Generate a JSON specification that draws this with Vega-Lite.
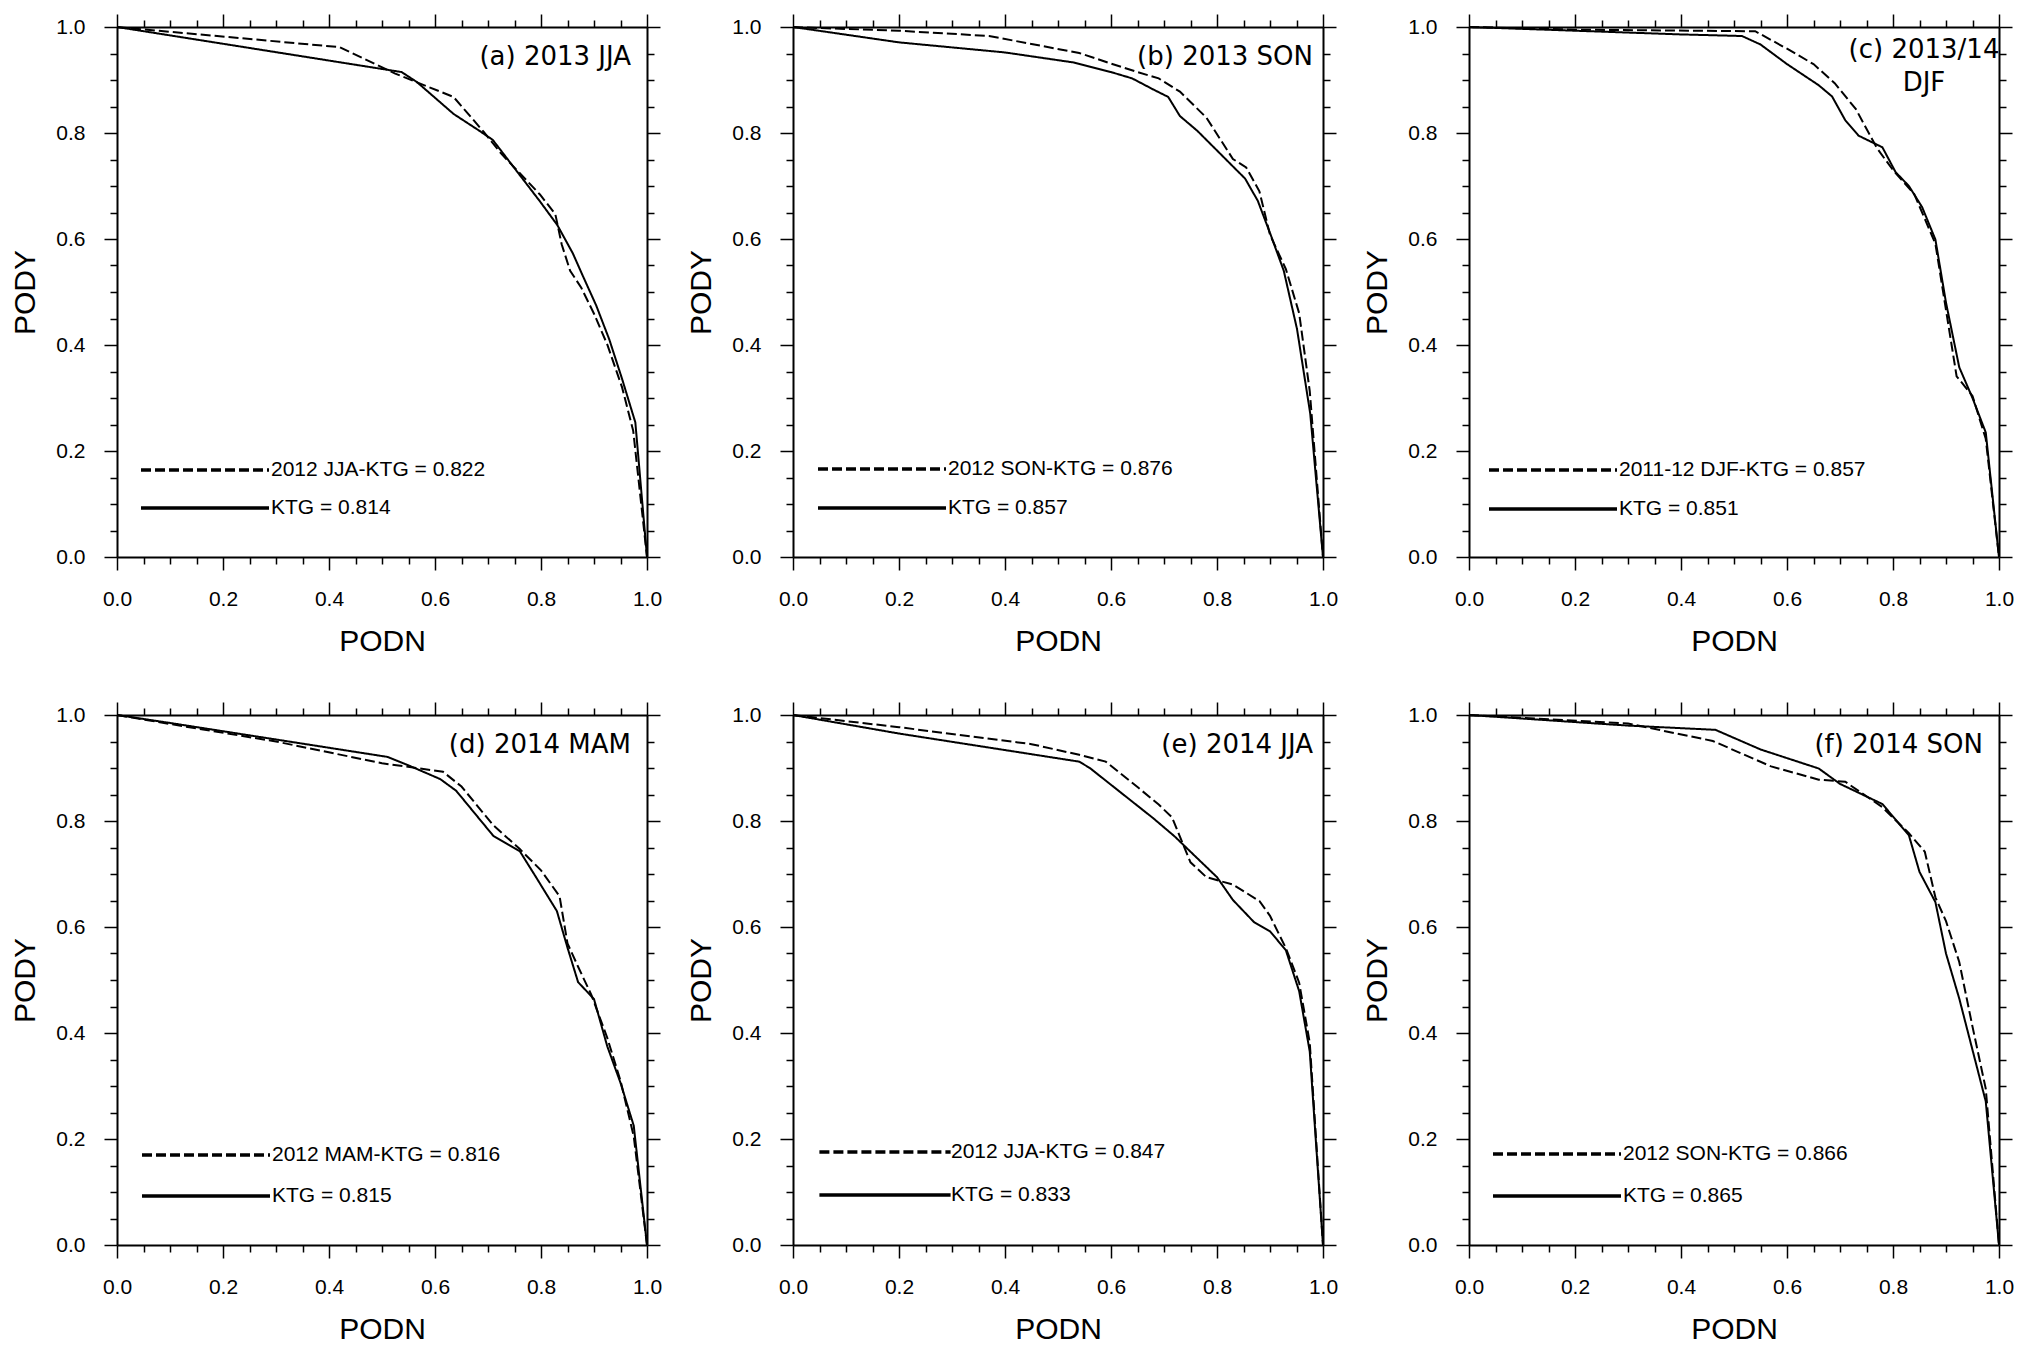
{
  "$schema": "https://vega.github.io/schema/vega-lite/v6.json",
  "padding": {"left": 10, "top": 13, "right": 5, "bottom": 5},
  "background": "white",
  "columns": 3,
  "spacing": {"row": 158, "column": 146},
  "bounds": "flush",
  "resolve": {"scale": {"strokeDash": "independent"}, "legend": {"strokeDash": "independent"}},
  "concat": [
    {
      "width": 530, "height": 530,
      "title": {"text": "(a) 2013 JJA", "offset": -57, "dx": -16},
      "data": {"values": [
        {"series": "2012 JJA-KTG = 0.822", "PODN": 0, "PODY": 1},
        {"series": "2012 JJA-KTG = 0.822", "PODN": 0.42, "PODY": 0.962},
        {"series": "2012 JJA-KTG = 0.822", "PODN": 0.525, "PODY": 0.912},
        {"series": "2012 JJA-KTG = 0.822", "PODN": 0.635, "PODY": 0.868},
        {"series": "2012 JJA-KTG = 0.822", "PODN": 0.692, "PODY": 0.802},
        {"series": "2012 JJA-KTG = 0.822", "PODN": 0.725, "PODY": 0.761},
        {"series": "2012 JJA-KTG = 0.822", "PODN": 0.798, "PODY": 0.684},
        {"series": "2012 JJA-KTG = 0.822", "PODN": 0.827, "PODY": 0.647},
        {"series": "2012 JJA-KTG = 0.822", "PODN": 0.839, "PODY": 0.59},
        {"series": "2012 JJA-KTG = 0.822", "PODN": 0.855, "PODY": 0.54},
        {"series": "2012 JJA-KTG = 0.822", "PODN": 0.876, "PODY": 0.508},
        {"series": "2012 JJA-KTG = 0.822", "PODN": 0.9, "PODY": 0.459},
        {"series": "2012 JJA-KTG = 0.822", "PODN": 0.925, "PODY": 0.401},
        {"series": "2012 JJA-KTG = 0.822", "PODN": 0.953, "PODY": 0.32},
        {"series": "2012 JJA-KTG = 0.822", "PODN": 0.974, "PODY": 0.238},
        {"series": "2012 JJA-KTG = 0.822", "PODN": 1, "PODY": 0},
        {"series": "KTG = 0.814", "PODN": 0, "PODY": 1},
        {"series": "KTG = 0.814", "PODN": 0.537, "PODY": 0.915},
        {"series": "KTG = 0.814", "PODN": 0.566, "PODY": 0.896},
        {"series": "KTG = 0.814", "PODN": 0.635, "PODY": 0.836},
        {"series": "KTG = 0.814", "PODN": 0.684, "PODY": 0.804},
        {"series": "KTG = 0.814", "PODN": 0.709, "PODY": 0.787},
        {"series": "KTG = 0.814", "PODN": 0.798, "PODY": 0.671},
        {"series": "KTG = 0.814", "PODN": 0.831, "PODY": 0.626},
        {"series": "KTG = 0.814", "PODN": 0.86, "PODY": 0.573},
        {"series": "KTG = 0.814", "PODN": 0.88, "PODY": 0.528},
        {"series": "KTG = 0.814", "PODN": 0.904, "PODY": 0.475},
        {"series": "KTG = 0.814", "PODN": 0.929, "PODY": 0.41},
        {"series": "KTG = 0.814", "PODN": 0.953, "PODY": 0.336},
        {"series": "KTG = 0.814", "PODN": 0.978, "PODY": 0.254},
        {"series": "KTG = 0.814", "PODN": 1, "PODY": 0}
      ]},
      "layer": [
        {
          "mark": {"type": "line", "color": "black", "strokeWidth": 2},
          "encoding": {
            "x": {"field": "PODN", "type": "quantitative", "scale": {"domain": [0, 1], "nice": false, "zero": false},
              "axis": {"orient": "bottom", "title": "PODN", "values": [0,0.05,0.1,0.15,0.2,0.25,0.3,0.35,0.4,0.45,0.5,0.55,0.6,0.65,0.7,0.75,0.8,0.85,0.9,0.95,1],
                "tickSize": {"condition": {"test": "abs(datum.value*5-round(datum.value*5))<0.001", "value": 13}, "value": 7},
                "labelExpr": "abs(datum.value*5-round(datum.value*5))<0.001 ? format(datum.value, '.1f') : ''",
                "labelPadding": 18, "titlePadding": 17, "labelFlush": false, "labelOverlap": false}},
            "y": {"field": "PODY", "type": "quantitative", "scale": {"domain": [0, 1], "nice": false, "zero": false},
              "axis": {"orient": "left", "title": "PODY", "values": [0,0.05,0.1,0.15,0.2,0.25,0.3,0.35,0.4,0.45,0.5,0.55,0.6,0.65,0.7,0.75,0.8,0.85,0.9,0.95,1],
                "tickSize": {"condition": {"test": "abs(datum.value*5-round(datum.value*5))<0.001", "value": 13}, "value": 7},
                "labelExpr": "abs(datum.value*5-round(datum.value*5))<0.001 ? format(datum.value, '.1f') : ''",
                "labelPadding": 19, "titlePadding": 15, "labelFlush": false, "labelOverlap": false}},
            "strokeDash": {"field": "series", "type": "nominal",
              "scale": {"domain": ["2012 JJA-KTG = 0.822", "KTG = 0.814"], "range": [[10, 4], [1, 0]]},
              "legend": {"title": null, "orient": "none", "legendX": 70, "legendY": 425, "rowPadding": 10, "symbolType": "M-4,0H4"}}
          }
        },
        {
          "mark": {"type": "point", "opacity": 0, "size": 1},
          "encoding": {
            "x": {"field": "PODN", "type": "quantitative", "axis": {"orient": "top", "title": null, "labels": false, "values": [0,0.05,0.1,0.15,0.2,0.25,0.3,0.35,0.4,0.45,0.5,0.55,0.6,0.65,0.7,0.75,0.8,0.85,0.9,0.95,1], "tickSize": {"condition": {"test": "abs(datum.value*5-round(datum.value*5))<0.001", "value": 13}, "value": 7}}},
            "y": {"field": "PODY", "type": "quantitative", "axis": {"orient": "right", "title": null, "labels": false, "values": [0,0.05,0.1,0.15,0.2,0.25,0.3,0.35,0.4,0.45,0.5,0.55,0.6,0.65,0.7,0.75,0.8,0.85,0.9,0.95,1], "tickSize": {"condition": {"test": "abs(datum.value*5-round(datum.value*5))<0.001", "value": 13}, "value": 7}}}
          }
        }
      ],
      "resolve": {"axis": {"x": "independent", "y": "independent"}}
    },
    {
      "width": 530, "height": 530,
      "title": {"text": "(b) 2013 SON", "offset": -57, "dx": -10},
      "data": {"values": [
        {"series": "2012 SON-KTG = 0.876", "PODN": 0, "PODY": 1},
        {"series": "2012 SON-KTG = 0.876", "PODN": 0.05, "PODY": 0.998},
        {"series": "2012 SON-KTG = 0.876", "PODN": 0.2, "PODY": 0.993},
        {"series": "2012 SON-KTG = 0.876", "PODN": 0.37, "PODY": 0.983},
        {"series": "2012 SON-KTG = 0.876", "PODN": 0.54, "PODY": 0.951},
        {"series": "2012 SON-KTG = 0.876", "PODN": 0.6, "PODY": 0.931},
        {"series": "2012 SON-KTG = 0.876", "PODN": 0.65, "PODY": 0.915},
        {"series": "2012 SON-KTG = 0.876", "PODN": 0.69, "PODY": 0.903},
        {"series": "2012 SON-KTG = 0.876", "PODN": 0.73, "PODY": 0.878},
        {"series": "2012 SON-KTG = 0.876", "PODN": 0.78, "PODY": 0.829},
        {"series": "2012 SON-KTG = 0.876", "PODN": 0.83, "PODY": 0.751},
        {"series": "2012 SON-KTG = 0.876", "PODN": 0.855, "PODY": 0.735},
        {"series": "2012 SON-KTG = 0.876", "PODN": 0.88, "PODY": 0.69},
        {"series": "2012 SON-KTG = 0.876", "PODN": 0.9, "PODY": 0.608},
        {"series": "2012 SON-KTG = 0.876", "PODN": 0.93, "PODY": 0.543},
        {"series": "2012 SON-KTG = 0.876", "PODN": 0.955, "PODY": 0.46},
        {"series": "2012 SON-KTG = 0.876", "PODN": 0.975, "PODY": 0.313},
        {"series": "2012 SON-KTG = 0.876", "PODN": 1, "PODY": 0},
        {"series": "KTG = 0.857", "PODN": 0, "PODY": 1},
        {"series": "KTG = 0.857", "PODN": 0.2, "PODY": 0.971},
        {"series": "KTG = 0.857", "PODN": 0.4, "PODY": 0.952},
        {"series": "KTG = 0.857", "PODN": 0.53, "PODY": 0.933},
        {"series": "KTG = 0.857", "PODN": 0.6, "PODY": 0.915},
        {"series": "KTG = 0.857", "PODN": 0.64, "PODY": 0.903},
        {"series": "KTG = 0.857", "PODN": 0.68, "PODY": 0.882},
        {"series": "KTG = 0.857", "PODN": 0.708, "PODY": 0.868},
        {"series": "KTG = 0.857", "PODN": 0.73, "PODY": 0.832},
        {"series": "KTG = 0.857", "PODN": 0.763, "PODY": 0.804},
        {"series": "KTG = 0.857", "PODN": 0.853, "PODY": 0.714},
        {"series": "KTG = 0.857", "PODN": 0.877, "PODY": 0.672},
        {"series": "KTG = 0.857", "PODN": 0.902, "PODY": 0.606},
        {"series": "KTG = 0.857", "PODN": 0.926, "PODY": 0.54},
        {"series": "KTG = 0.857", "PODN": 0.951, "PODY": 0.43},
        {"series": "KTG = 0.857", "PODN": 0.976, "PODY": 0.27},
        {"series": "KTG = 0.857", "PODN": 1, "PODY": 0}
      ]},
      "layer": [
        {
          "mark": {"type": "line", "color": "black", "strokeWidth": 2},
          "encoding": {
            "x": {"field": "PODN", "type": "quantitative", "scale": {"domain": [0, 1], "nice": false, "zero": false},
              "axis": {"orient": "bottom", "title": "PODN", "values": [0,0.05,0.1,0.15,0.2,0.25,0.3,0.35,0.4,0.45,0.5,0.55,0.6,0.65,0.7,0.75,0.8,0.85,0.9,0.95,1],
                "tickSize": {"condition": {"test": "abs(datum.value*5-round(datum.value*5))<0.001", "value": 13}, "value": 7},
                "labelExpr": "abs(datum.value*5-round(datum.value*5))<0.001 ? format(datum.value, '.1f') : ''",
                "labelPadding": 18, "titlePadding": 17, "labelFlush": false, "labelOverlap": false}},
            "y": {"field": "PODY", "type": "quantitative", "scale": {"domain": [0, 1], "nice": false, "zero": false},
              "axis": {"orient": "left", "title": "PODY", "values": [0,0.05,0.1,0.15,0.2,0.25,0.3,0.35,0.4,0.45,0.5,0.55,0.6,0.65,0.7,0.75,0.8,0.85,0.9,0.95,1],
                "tickSize": {"condition": {"test": "abs(datum.value*5-round(datum.value*5))<0.001", "value": 13}, "value": 7},
                "labelExpr": "abs(datum.value*5-round(datum.value*5))<0.001 ? format(datum.value, '.1f') : ''",
                "labelPadding": 19, "titlePadding": 15, "labelFlush": false, "labelOverlap": false}},
            "strokeDash": {"field": "series", "type": "nominal",
              "scale": {"domain": ["2012 SON-KTG = 0.876", "KTG = 0.857"], "range": [[10, 4], [1, 0]]},
              "legend": {"title": null, "orient": "none", "legendX": 71, "legendY": 424, "rowPadding": 11, "symbolType": "M-4,0H4"}}
          }
        },
        {
          "mark": {"type": "point", "opacity": 0, "size": 1},
          "encoding": {
            "x": {"field": "PODN", "type": "quantitative", "axis": {"orient": "top", "title": null, "labels": false, "values": [0,0.05,0.1,0.15,0.2,0.25,0.3,0.35,0.4,0.45,0.5,0.55,0.6,0.65,0.7,0.75,0.8,0.85,0.9,0.95,1], "tickSize": {"condition": {"test": "abs(datum.value*5-round(datum.value*5))<0.001", "value": 13}, "value": 7}}},
            "y": {"field": "PODY", "type": "quantitative", "axis": {"orient": "right", "title": null, "labels": false, "values": [0,0.05,0.1,0.15,0.2,0.25,0.3,0.35,0.4,0.45,0.5,0.55,0.6,0.65,0.7,0.75,0.8,0.85,0.9,0.95,1], "tickSize": {"condition": {"test": "abs(datum.value*5-round(datum.value*5))<0.001", "value": 13}, "value": 7}}}
          }
        }
      ],
      "resolve": {"axis": {"x": "independent", "y": "independent"}}
    },
    {
      "width": 530, "height": 530,
      "title": {"text": ["(c) 2013/14", "DJF"], "offset": -83, "dx": -75, "align": "center", "lineHeight": 33},
      "data": {"values": [
        {"series": "2011-12 DJF-KTG = 0.857", "PODN": 0, "PODY": 1},
        {"series": "2011-12 DJF-KTG = 0.857", "PODN": 0.2, "PODY": 0.995},
        {"series": "2011-12 DJF-KTG = 0.857", "PODN": 0.54, "PODY": 0.992},
        {"series": "2011-12 DJF-KTG = 0.857", "PODN": 0.6, "PODY": 0.959},
        {"series": "2011-12 DJF-KTG = 0.857", "PODN": 0.65, "PODY": 0.93},
        {"series": "2011-12 DJF-KTG = 0.857", "PODN": 0.69, "PODY": 0.894},
        {"series": "2011-12 DJF-KTG = 0.857", "PODN": 0.73, "PODY": 0.845},
        {"series": "2011-12 DJF-KTG = 0.857", "PODN": 0.77, "PODY": 0.771},
        {"series": "2011-12 DJF-KTG = 0.857", "PODN": 0.8, "PODY": 0.73},
        {"series": "2011-12 DJF-KTG = 0.857", "PODN": 0.84, "PODY": 0.685},
        {"series": "2011-12 DJF-KTG = 0.857", "PODN": 0.88, "PODY": 0.591},
        {"series": "2011-12 DJF-KTG = 0.857", "PODN": 0.92, "PODY": 0.341},
        {"series": "2011-12 DJF-KTG = 0.857", "PODN": 0.95, "PODY": 0.304},
        {"series": "2011-12 DJF-KTG = 0.857", "PODN": 0.975, "PODY": 0.223},
        {"series": "2011-12 DJF-KTG = 0.857", "PODN": 1, "PODY": 0},
        {"series": "KTG = 0.851", "PODN": 0, "PODY": 1},
        {"series": "KTG = 0.851", "PODN": 0.2, "PODY": 0.993},
        {"series": "KTG = 0.851", "PODN": 0.4, "PODY": 0.986},
        {"series": "KTG = 0.851", "PODN": 0.515, "PODY": 0.983},
        {"series": "KTG = 0.851", "PODN": 0.55, "PODY": 0.967},
        {"series": "KTG = 0.851", "PODN": 0.6, "PODY": 0.93},
        {"series": "KTG = 0.851", "PODN": 0.66, "PODY": 0.89},
        {"series": "KTG = 0.851", "PODN": 0.685, "PODY": 0.869},
        {"series": "KTG = 0.851", "PODN": 0.71, "PODY": 0.824},
        {"series": "KTG = 0.851", "PODN": 0.735, "PODY": 0.795},
        {"series": "KTG = 0.851", "PODN": 0.78, "PODY": 0.773},
        {"series": "KTG = 0.851", "PODN": 0.805, "PODY": 0.726},
        {"series": "KTG = 0.851", "PODN": 0.83, "PODY": 0.7},
        {"series": "KTG = 0.851", "PODN": 0.855, "PODY": 0.66},
        {"series": "KTG = 0.851", "PODN": 0.88, "PODY": 0.599},
        {"series": "KTG = 0.851", "PODN": 0.9, "PODY": 0.48},
        {"series": "KTG = 0.851", "PODN": 0.925, "PODY": 0.358},
        {"series": "KTG = 0.851", "PODN": 0.95, "PODY": 0.3},
        {"series": "KTG = 0.851", "PODN": 0.975, "PODY": 0.235},
        {"series": "KTG = 0.851", "PODN": 1, "PODY": 0}
      ]},
      "layer": [
        {
          "mark": {"type": "line", "color": "black", "strokeWidth": 2},
          "encoding": {
            "x": {"field": "PODN", "type": "quantitative", "scale": {"domain": [0, 1], "nice": false, "zero": false},
              "axis": {"orient": "bottom", "title": "PODN", "values": [0,0.05,0.1,0.15,0.2,0.25,0.3,0.35,0.4,0.45,0.5,0.55,0.6,0.65,0.7,0.75,0.8,0.85,0.9,0.95,1],
                "tickSize": {"condition": {"test": "abs(datum.value*5-round(datum.value*5))<0.001", "value": 13}, "value": 7},
                "labelExpr": "abs(datum.value*5-round(datum.value*5))<0.001 ? format(datum.value, '.1f') : ''",
                "labelPadding": 18, "titlePadding": 17, "labelFlush": false, "labelOverlap": false}},
            "y": {"field": "PODY", "type": "quantitative", "scale": {"domain": [0, 1], "nice": false, "zero": false},
              "axis": {"orient": "left", "title": "PODY", "values": [0,0.05,0.1,0.15,0.2,0.25,0.3,0.35,0.4,0.45,0.5,0.55,0.6,0.65,0.7,0.75,0.8,0.85,0.9,0.95,1],
                "tickSize": {"condition": {"test": "abs(datum.value*5-round(datum.value*5))<0.001", "value": 13}, "value": 7},
                "labelExpr": "abs(datum.value*5-round(datum.value*5))<0.001 ? format(datum.value, '.1f') : ''",
                "labelPadding": 19, "titlePadding": 15, "labelFlush": false, "labelOverlap": false}},
            "strokeDash": {"field": "series", "type": "nominal",
              "scale": {"domain": ["2011-12 DJF-KTG = 0.857", "KTG = 0.851"], "range": [[10, 4], [1, 0]]},
              "legend": {"title": null, "orient": "none", "legendX": 66, "legendY": 425, "rowPadding": 11, "symbolType": "M-4,0H4"}}
          }
        },
        {
          "mark": {"type": "point", "opacity": 0, "size": 1},
          "encoding": {
            "x": {"field": "PODN", "type": "quantitative", "axis": {"orient": "top", "title": null, "labels": false, "values": [0,0.05,0.1,0.15,0.2,0.25,0.3,0.35,0.4,0.45,0.5,0.55,0.6,0.65,0.7,0.75,0.8,0.85,0.9,0.95,1], "tickSize": {"condition": {"test": "abs(datum.value*5-round(datum.value*5))<0.001", "value": 13}, "value": 7}}},
            "y": {"field": "PODY", "type": "quantitative", "axis": {"orient": "right", "title": null, "labels": false, "values": [0,0.05,0.1,0.15,0.2,0.25,0.3,0.35,0.4,0.45,0.5,0.55,0.6,0.65,0.7,0.75,0.8,0.85,0.9,0.95,1], "tickSize": {"condition": {"test": "abs(datum.value*5-round(datum.value*5))<0.001", "value": 13}, "value": 7}}}
          }
        }
      ],
      "resolve": {"axis": {"x": "independent", "y": "independent"}}
    },
    {
      "width": 530, "height": 530,
      "title": {"text": "(d) 2014 MAM", "offset": -57, "dx": -16},
      "data": {"values": [
        {"series": "2012 MAM-KTG = 0.816", "PODN": 0, "PODY": 1},
        {"series": "2012 MAM-KTG = 0.816", "PODN": 0.1, "PODY": 0.983},
        {"series": "2012 MAM-KTG = 0.816", "PODN": 0.3, "PODY": 0.95},
        {"series": "2012 MAM-KTG = 0.816", "PODN": 0.5, "PODY": 0.909},
        {"series": "2012 MAM-KTG = 0.816", "PODN": 0.615, "PODY": 0.893},
        {"series": "2012 MAM-KTG = 0.816", "PODN": 0.65, "PODY": 0.865},
        {"series": "2012 MAM-KTG = 0.816", "PODN": 0.71, "PODY": 0.792},
        {"series": "2012 MAM-KTG = 0.816", "PODN": 0.76, "PODY": 0.747},
        {"series": "2012 MAM-KTG = 0.816", "PODN": 0.8, "PODY": 0.707},
        {"series": "2012 MAM-KTG = 0.816", "PODN": 0.835, "PODY": 0.658},
        {"series": "2012 MAM-KTG = 0.816", "PODN": 0.85, "PODY": 0.569},
        {"series": "2012 MAM-KTG = 0.816", "PODN": 0.87, "PODY": 0.525},
        {"series": "2012 MAM-KTG = 0.816", "PODN": 0.895, "PODY": 0.472},
        {"series": "2012 MAM-KTG = 0.816", "PODN": 0.925, "PODY": 0.391},
        {"series": "2012 MAM-KTG = 0.816", "PODN": 0.95, "PODY": 0.31},
        {"series": "2012 MAM-KTG = 0.816", "PODN": 0.975, "PODY": 0.205},
        {"series": "2012 MAM-KTG = 0.816", "PODN": 1, "PODY": 0},
        {"series": "KTG = 0.815", "PODN": 0, "PODY": 1},
        {"series": "KTG = 0.815", "PODN": 0.1, "PODY": 0.985},
        {"series": "KTG = 0.815", "PODN": 0.51, "PODY": 0.921},
        {"series": "KTG = 0.815", "PODN": 0.55, "PODY": 0.905},
        {"series": "KTG = 0.815", "PODN": 0.61, "PODY": 0.879},
        {"series": "KTG = 0.815", "PODN": 0.64, "PODY": 0.857},
        {"series": "KTG = 0.815", "PODN": 0.71, "PODY": 0.772},
        {"series": "KTG = 0.815", "PODN": 0.76, "PODY": 0.743},
        {"series": "KTG = 0.815", "PODN": 0.79, "PODY": 0.695},
        {"series": "KTG = 0.815", "PODN": 0.83, "PODY": 0.63},
        {"series": "KTG = 0.815", "PODN": 0.85, "PODY": 0.561},
        {"series": "KTG = 0.815", "PODN": 0.87, "PODY": 0.496},
        {"series": "KTG = 0.815", "PODN": 0.9, "PODY": 0.464},
        {"series": "KTG = 0.815", "PODN": 0.925, "PODY": 0.375},
        {"series": "KTG = 0.815", "PODN": 0.95, "PODY": 0.306},
        {"series": "KTG = 0.815", "PODN": 0.975, "PODY": 0.225},
        {"series": "KTG = 0.815", "PODN": 1, "PODY": 0}
      ]},
      "layer": [
        {
          "mark": {"type": "line", "color": "black", "strokeWidth": 2},
          "encoding": {
            "x": {"field": "PODN", "type": "quantitative", "scale": {"domain": [0, 1], "nice": false, "zero": false},
              "axis": {"orient": "bottom", "title": "PODN", "values": [0,0.05,0.1,0.15,0.2,0.25,0.3,0.35,0.4,0.45,0.5,0.55,0.6,0.65,0.7,0.75,0.8,0.85,0.9,0.95,1],
                "tickSize": {"condition": {"test": "abs(datum.value*5-round(datum.value*5))<0.001", "value": 13}, "value": 7},
                "labelExpr": "abs(datum.value*5-round(datum.value*5))<0.001 ? format(datum.value, '.1f') : ''",
                "labelPadding": 18, "titlePadding": 17, "labelFlush": false, "labelOverlap": false}},
            "y": {"field": "PODY", "type": "quantitative", "scale": {"domain": [0, 1], "nice": false, "zero": false},
              "axis": {"orient": "left", "title": "PODY", "values": [0,0.05,0.1,0.15,0.2,0.25,0.3,0.35,0.4,0.45,0.5,0.55,0.6,0.65,0.7,0.75,0.8,0.85,0.9,0.95,1],
                "tickSize": {"condition": {"test": "abs(datum.value*5-round(datum.value*5))<0.001", "value": 13}, "value": 7},
                "labelExpr": "abs(datum.value*5-round(datum.value*5))<0.001 ? format(datum.value, '.1f') : ''",
                "labelPadding": 19, "titlePadding": 15, "labelFlush": false, "labelOverlap": false}},
            "strokeDash": {"field": "series", "type": "nominal",
              "scale": {"domain": ["2012 MAM-KTG = 0.816", "KTG = 0.815"], "range": [[10, 4], [1, 0]]},
              "legend": {"title": null, "orient": "none", "legendX": 71, "legendY": 422, "rowPadding": 13, "symbolType": "M-4,0H4"}}
          }
        },
        {
          "mark": {"type": "point", "opacity": 0, "size": 1},
          "encoding": {
            "x": {"field": "PODN", "type": "quantitative", "axis": {"orient": "top", "title": null, "labels": false, "values": [0,0.05,0.1,0.15,0.2,0.25,0.3,0.35,0.4,0.45,0.5,0.55,0.6,0.65,0.7,0.75,0.8,0.85,0.9,0.95,1], "tickSize": {"condition": {"test": "abs(datum.value*5-round(datum.value*5))<0.001", "value": 13}, "value": 7}}},
            "y": {"field": "PODY", "type": "quantitative", "axis": {"orient": "right", "title": null, "labels": false, "values": [0,0.05,0.1,0.15,0.2,0.25,0.3,0.35,0.4,0.45,0.5,0.55,0.6,0.65,0.7,0.75,0.8,0.85,0.9,0.95,1], "tickSize": {"condition": {"test": "abs(datum.value*5-round(datum.value*5))<0.001", "value": 13}, "value": 7}}}
          }
        }
      ],
      "resolve": {"axis": {"x": "independent", "y": "independent"}}
    },
    {
      "width": 530, "height": 530,
      "title": {"text": "(e) 2014 JJA", "offset": -57, "dx": -10},
      "data": {"values": [
        {"series": "2012 JJA-KTG = 0.847", "PODN": 0, "PODY": 1},
        {"series": "2012 JJA-KTG = 0.847", "PODN": 0.2, "PODY": 0.977},
        {"series": "2012 JJA-KTG = 0.847", "PODN": 0.45, "PODY": 0.945},
        {"series": "2012 JJA-KTG = 0.847", "PODN": 0.54, "PODY": 0.925},
        {"series": "2012 JJA-KTG = 0.847", "PODN": 0.59, "PODY": 0.912},
        {"series": "2012 JJA-KTG = 0.847", "PODN": 0.65, "PODY": 0.864},
        {"series": "2012 JJA-KTG = 0.847", "PODN": 0.69, "PODY": 0.831},
        {"series": "2012 JJA-KTG = 0.847", "PODN": 0.715, "PODY": 0.807},
        {"series": "2012 JJA-KTG = 0.847", "PODN": 0.75, "PODY": 0.722},
        {"series": "2012 JJA-KTG = 0.847", "PODN": 0.78, "PODY": 0.694},
        {"series": "2012 JJA-KTG = 0.847", "PODN": 0.83, "PODY": 0.68},
        {"series": "2012 JJA-KTG = 0.847", "PODN": 0.88, "PODY": 0.649},
        {"series": "2012 JJA-KTG = 0.847", "PODN": 0.9, "PODY": 0.621},
        {"series": "2012 JJA-KTG = 0.847", "PODN": 0.93, "PODY": 0.56},
        {"series": "2012 JJA-KTG = 0.847", "PODN": 0.955, "PODY": 0.495},
        {"series": "2012 JJA-KTG = 0.847", "PODN": 0.975, "PODY": 0.382},
        {"series": "2012 JJA-KTG = 0.847", "PODN": 1, "PODY": 0},
        {"series": "KTG = 0.833", "PODN": 0, "PODY": 1},
        {"series": "KTG = 0.833", "PODN": 0.2, "PODY": 0.965},
        {"series": "KTG = 0.833", "PODN": 0.54, "PODY": 0.912},
        {"series": "KTG = 0.833", "PODN": 0.56, "PODY": 0.9},
        {"series": "KTG = 0.833", "PODN": 0.68, "PODY": 0.805},
        {"series": "KTG = 0.833", "PODN": 0.72, "PODY": 0.771},
        {"series": "KTG = 0.833", "PODN": 0.75, "PODY": 0.742},
        {"series": "KTG = 0.833", "PODN": 0.8, "PODY": 0.694},
        {"series": "KTG = 0.833", "PODN": 0.83, "PODY": 0.651},
        {"series": "KTG = 0.833", "PODN": 0.87, "PODY": 0.609},
        {"series": "KTG = 0.833", "PODN": 0.9, "PODY": 0.592},
        {"series": "KTG = 0.833", "PODN": 0.93, "PODY": 0.556},
        {"series": "KTG = 0.833", "PODN": 0.955, "PODY": 0.479},
        {"series": "KTG = 0.833", "PODN": 0.975, "PODY": 0.365},
        {"series": "KTG = 0.833", "PODN": 1, "PODY": 0}
      ]},
      "layer": [
        {
          "mark": {"type": "line", "color": "black", "strokeWidth": 2},
          "encoding": {
            "x": {"field": "PODN", "type": "quantitative", "scale": {"domain": [0, 1], "nice": false, "zero": false},
              "axis": {"orient": "bottom", "title": "PODN", "values": [0,0.05,0.1,0.15,0.2,0.25,0.3,0.35,0.4,0.45,0.5,0.55,0.6,0.65,0.7,0.75,0.8,0.85,0.9,0.95,1],
                "tickSize": {"condition": {"test": "abs(datum.value*5-round(datum.value*5))<0.001", "value": 13}, "value": 7},
                "labelExpr": "abs(datum.value*5-round(datum.value*5))<0.001 ? format(datum.value, '.1f') : ''",
                "labelPadding": 18, "titlePadding": 17, "labelFlush": false, "labelOverlap": false}},
            "y": {"field": "PODY", "type": "quantitative", "scale": {"domain": [0, 1], "nice": false, "zero": false},
              "axis": {"orient": "left", "title": "PODY", "values": [0,0.05,0.1,0.15,0.2,0.25,0.3,0.35,0.4,0.45,0.5,0.55,0.6,0.65,0.7,0.75,0.8,0.85,0.9,0.95,1],
                "tickSize": {"condition": {"test": "abs(datum.value*5-round(datum.value*5))<0.001", "value": 13}, "value": 7},
                "labelExpr": "abs(datum.value*5-round(datum.value*5))<0.001 ? format(datum.value, '.1f') : ''",
                "labelPadding": 19, "titlePadding": 15, "labelFlush": false, "labelOverlap": false}},
            "strokeDash": {"field": "series", "type": "nominal",
              "scale": {"domain": ["2012 JJA-KTG = 0.847", "KTG = 0.833"], "range": [[10, 4], [1, 0]]},
              "legend": {"title": null, "orient": "none", "legendX": 74, "legendY": 419, "rowPadding": 15, "symbolType": "M-4.1,0H4.1"}}
          }
        },
        {
          "mark": {"type": "point", "opacity": 0, "size": 1},
          "encoding": {
            "x": {"field": "PODN", "type": "quantitative", "axis": {"orient": "top", "title": null, "labels": false, "values": [0,0.05,0.1,0.15,0.2,0.25,0.3,0.35,0.4,0.45,0.5,0.55,0.6,0.65,0.7,0.75,0.8,0.85,0.9,0.95,1], "tickSize": {"condition": {"test": "abs(datum.value*5-round(datum.value*5))<0.001", "value": 13}, "value": 7}}},
            "y": {"field": "PODY", "type": "quantitative", "axis": {"orient": "right", "title": null, "labels": false, "values": [0,0.05,0.1,0.15,0.2,0.25,0.3,0.35,0.4,0.45,0.5,0.55,0.6,0.65,0.7,0.75,0.8,0.85,0.9,0.95,1], "tickSize": {"condition": {"test": "abs(datum.value*5-round(datum.value*5))<0.001", "value": 13}, "value": 7}}}
          }
        }
      ],
      "resolve": {"axis": {"x": "independent", "y": "independent"}}
    },
    {
      "width": 530, "height": 530,
      "title": {"text": "(f) 2014 SON", "offset": -57, "dx": -16},
      "data": {"values": [
        {"series": "2012 SON-KTG = 0.866", "PODN": 0, "PODY": 1},
        {"series": "2012 SON-KTG = 0.866", "PODN": 0.3, "PODY": 0.984},
        {"series": "2012 SON-KTG = 0.866", "PODN": 0.46, "PODY": 0.951},
        {"series": "2012 SON-KTG = 0.866", "PODN": 0.57, "PODY": 0.903},
        {"series": "2012 SON-KTG = 0.866", "PODN": 0.66, "PODY": 0.878},
        {"series": "2012 SON-KTG = 0.866", "PODN": 0.71, "PODY": 0.874},
        {"series": "2012 SON-KTG = 0.866", "PODN": 0.78, "PODY": 0.826},
        {"series": "2012 SON-KTG = 0.866", "PODN": 0.83, "PODY": 0.777},
        {"series": "2012 SON-KTG = 0.866", "PODN": 0.86, "PODY": 0.742},
        {"series": "2012 SON-KTG = 0.866", "PODN": 0.88, "PODY": 0.656},
        {"series": "2012 SON-KTG = 0.866", "PODN": 0.9, "PODY": 0.611},
        {"series": "2012 SON-KTG = 0.866", "PODN": 0.925, "PODY": 0.534},
        {"series": "2012 SON-KTG = 0.866", "PODN": 0.95, "PODY": 0.412},
        {"series": "2012 SON-KTG = 0.866", "PODN": 0.975, "PODY": 0.295},
        {"series": "2012 SON-KTG = 0.866", "PODN": 1, "PODY": 0},
        {"series": "KTG = 0.865", "PODN": 0, "PODY": 1},
        {"series": "KTG = 0.865", "PODN": 0.3, "PODY": 0.98},
        {"series": "KTG = 0.865", "PODN": 0.465, "PODY": 0.972},
        {"series": "KTG = 0.865", "PODN": 0.55, "PODY": 0.935},
        {"series": "KTG = 0.865", "PODN": 0.66, "PODY": 0.899},
        {"series": "KTG = 0.865", "PODN": 0.7, "PODY": 0.87},
        {"series": "KTG = 0.865", "PODN": 0.78, "PODY": 0.832},
        {"series": "KTG = 0.865", "PODN": 0.83, "PODY": 0.773},
        {"series": "KTG = 0.865", "PODN": 0.85, "PODY": 0.704},
        {"series": "KTG = 0.865", "PODN": 0.88, "PODY": 0.647},
        {"series": "KTG = 0.865", "PODN": 0.9, "PODY": 0.55},
        {"series": "KTG = 0.865", "PODN": 0.925, "PODY": 0.465},
        {"series": "KTG = 0.865", "PODN": 0.975, "PODY": 0.271},
        {"series": "KTG = 0.865", "PODN": 1, "PODY": 0}
      ]},
      "layer": [
        {
          "mark": {"type": "line", "color": "black", "strokeWidth": 2},
          "encoding": {
            "x": {"field": "PODN", "type": "quantitative", "scale": {"domain": [0, 1], "nice": false, "zero": false},
              "axis": {"orient": "bottom", "title": "PODN", "values": [0,0.05,0.1,0.15,0.2,0.25,0.3,0.35,0.4,0.45,0.5,0.55,0.6,0.65,0.7,0.75,0.8,0.85,0.9,0.95,1],
                "tickSize": {"condition": {"test": "abs(datum.value*5-round(datum.value*5))<0.001", "value": 13}, "value": 7},
                "labelExpr": "abs(datum.value*5-round(datum.value*5))<0.001 ? format(datum.value, '.1f') : ''",
                "labelPadding": 18, "titlePadding": 17, "labelFlush": false, "labelOverlap": false}},
            "y": {"field": "PODY", "type": "quantitative", "scale": {"domain": [0, 1], "nice": false, "zero": false},
              "axis": {"orient": "left", "title": "PODY", "values": [0,0.05,0.1,0.15,0.2,0.25,0.3,0.35,0.4,0.45,0.5,0.55,0.6,0.65,0.7,0.75,0.8,0.85,0.9,0.95,1],
                "tickSize": {"condition": {"test": "abs(datum.value*5-round(datum.value*5))<0.001", "value": 13}, "value": 7},
                "labelExpr": "abs(datum.value*5-round(datum.value*5))<0.001 ? format(datum.value, '.1f') : ''",
                "labelPadding": 19, "titlePadding": 15, "labelFlush": false, "labelOverlap": false}},
            "strokeDash": {"field": "series", "type": "nominal",
              "scale": {"domain": ["2012 SON-KTG = 0.866", "KTG = 0.865"], "range": [[10, 4], [1, 0]]},
              "legend": {"title": null, "orient": "none", "legendX": 70, "legendY": 421, "rowPadding": 14, "symbolType": "M-4,0H4"}}
          }
        },
        {
          "mark": {"type": "point", "opacity": 0, "size": 1},
          "encoding": {
            "x": {"field": "PODN", "type": "quantitative", "axis": {"orient": "top", "title": null, "labels": false, "values": [0,0.05,0.1,0.15,0.2,0.25,0.3,0.35,0.4,0.45,0.5,0.55,0.6,0.65,0.7,0.75,0.8,0.85,0.9,0.95,1], "tickSize": {"condition": {"test": "abs(datum.value*5-round(datum.value*5))<0.001", "value": 13}, "value": 7}}},
            "y": {"field": "PODY", "type": "quantitative", "axis": {"orient": "right", "title": null, "labels": false, "values": [0,0.05,0.1,0.15,0.2,0.25,0.3,0.35,0.4,0.45,0.5,0.55,0.6,0.65,0.7,0.75,0.8,0.85,0.9,0.95,1], "tickSize": {"condition": {"test": "abs(datum.value*5-round(datum.value*5))<0.001", "value": 13}, "value": 7}}}
          }
        }
      ],
      "resolve": {"axis": {"x": "independent", "y": "independent"}}
    }
  ],
  "config": {
    "view": {"stroke": null},
    "font": "Liberation Sans",
    "axis": {"domainColor": "black", "domainWidth": 2, "tickColor": "black", "tickWidth": 1.5, "labelColor": "black", "labelFont": "Liberation Sans", "labelFontSize": 21, "titleFont": "Liberation Sans", "titleFontSize": 30, "titleFontWeight": "normal", "titleColor": "black", "grid": false},
    "legend": {"symbolSize": 1024, "symbolStrokeWidth": 3.5, "symbolStrokeColor": "black", "symbolFillColor": "transparent", "labelFont": "Liberation Sans", "labelFontSize": 21, "labelColor": "black", "labelOffset": 48, "labelLimit": 400, "rowPadding": 10, "padding": 0},
    "title": {"font": "DejaVu Sans", "fontSize": 26, "fontWeight": "normal", "color": "black", "anchor": "end", "baseline": "alphabetic", "frame": "group"}
  }
}
